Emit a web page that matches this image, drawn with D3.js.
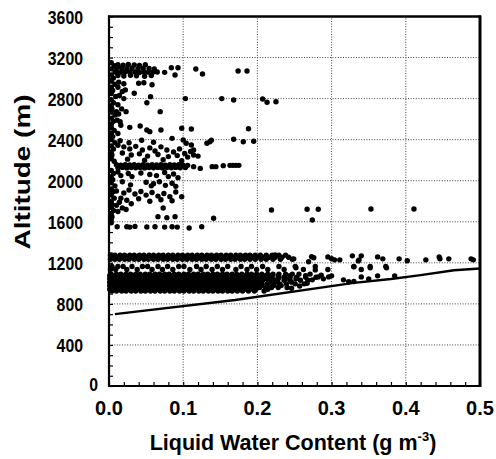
<!DOCTYPE html>
<html>
<head>
<meta charset="utf-8">
<script src="https://cdn.jsdelivr.net/npm/d3@7"></script>
<style>
  body { margin: 0; background: #fff; }
  svg { display: block; }
</style>
</head>
<body>
<svg id="chart" width="496" height="459"></svg>
<script>
// ---- axes ----
const xTicks = [0, 0.1, 0.2, 0.3, 0.4, 0.5];
const xTickLabels = ["0.0", "0.1", "0.2", "0.3", "0.4", "0.5"];
const yTicks = [0, 400, 800, 1200, 1600, 2000, 2400, 2800, 3200, 3600];
const yTickLabels = ["0", "400", "800", "1200", "1600", "2000", "2400", "2800", "3200", "3600"];
const xMinorStep = 0.02;   // g m-3
const yMinorStep = 100;    // m

// ---- cloud-base line (altitude vs LWC) ----
const baseLineLwc = [0.008, 0.17, 0.33, 0.38, 0.42, 0.465, 0.5];
const baseLineAlt = [700, 838, 1005, 1042, 1080, 1128, 1145];

// ---- lower cloud layer: dense rows (LWC values at one altitude) ----
const row1275 = [.002,.008,.015,.021,.028,.034,.041,.047,.054,.060,.067,.073,.080,.086,.093,.099,.106,.112,.119,.125,.132,.138,.145,.151,.158,.164,.171,.177,.184,.190,.197,.204,.212,.220,.229,.238];
const row1255 = [.005,.011,.018,.024,.031,.037,.044,.050,.057,.063,.070,.076,.083,.089,.096,.102,.109,.115,.122,.128,.135,.141,.148,.154,.161,.167,.174,.180,.187,.193,.200,.208,.216,.224,.233,.242];
const row1235 = [.002,.008,.014,.021,.027,.034,.040,.047,.053,.060,.066,.073,.079,.086,.092,.099,.105,.112,.118,.125,.131,.138,.144,.151,.157,.164,.170,.177,.183,.190,.197,.205,.212,.221,.231,.247];
const row1165 = [.004,.012,.019,.031,.045,.052,.066,.079,.094,.101,.118,.131,.146,.160,.178,.192,.207,.229,.251,.278,.330,.352,.373];
const row1135 = [.002,.009,.024,.038,.058,.072,.086,.109,.124,.139,.153,.171,.186,.199,.214,.236,.262,.295,.340];
const row1090 = [.003,.010,.016,.023,.029,.036,.042,.049,.055,.062,.068,.075,.081,.088,.094,.101,.107,.114,.120,.127,.133,.140,.146,.153,.159,.166,.172,.179,.186,.192,.199,.206,.214,.221,.229,.238,.247,.256,.271];
const row1075 = [.001,.007,.014,.020,.027,.033,.040,.046,.053,.059,.066,.072,.079,.085,.092,.098,.105,.111,.118,.124,.131,.137,.144,.150,.157,.163,.170,.176,.183,.189,.196,.203,.211,.219,.228,.244,.265];
const row1060 = [.003,.010,.016,.023,.029,.036,.042,.049,.055,.062,.068,.075,.081,.088,.094,.101,.107,.114,.120,.127,.133,.140,.146,.153,.159,.166,.172,.179,.185,.192,.198,.205,.213,.220,.229,.236,.244,.253,.265,.279];
const row1045 = [.001,.007,.013,.020,.026,.033,.039,.046,.052,.059,.065,.072,.078,.085,.091,.098,.104,.111,.117,.124,.130,.137,.143,.150,.156,.163,.169,.176,.182,.189,.196,.202,.210,.218,.228,.238,.252];
const row1030 = [.004,.010,.017,.023,.030,.036,.043,.049,.056,.062,.069,.075,.082,.088,.095,.101,.108,.114,.121,.127,.134,.140,.147,.153,.160,.166,.173,.179,.186,.193,.199,.207,.215,.224,.236,.244,.258,.268];
const row1012 = [.001,.007,.013,.020,.026,.033,.039,.046,.052,.059,.065,.072,.078,.085,.091,.098,.104,.111,.117,.124,.130,.137,.143,.150,.156,.163,.169,.176,.182,.189,.196,.204,.217,.227,.246];
const row995  = [.003,.010,.016,.023,.029,.036,.042,.049,.055,.062,.068,.075,.081,.088,.094,.101,.107,.114,.120,.127,.133,.140,.146,.153,.159,.166,.172,.179,.185,.192,.199,.206,.213,.221,.230,.239,.251,.263];
const row978  = [.001,.007,.014,.020,.027,.033,.040,.046,.053,.059,.066,.072,.079,.085,.092,.098,.105,.111,.118,.124,.131,.137,.144,.150,.157,.163,.170,.176,.183,.189,.197,.205,.213,.222,.232];
const row960  = [.004,.010,.017,.023,.030,.036,.043,.049,.056,.062,.069,.075,.082,.088,.095,.101,.108,.114,.121,.127,.134,.140,.147,.153,.160,.166,.173,.180,.187,.194,.203,.211,.219,.228,.240];
const row942  = [.001,.007,.013,.020,.026,.033,.039,.046,.052,.059,.065,.072,.078,.085,.091,.098,.104,.111,.117,.124,.130,.137,.143,.150,.156,.163,.169,.176,.183,.190,.198,.214];
const row925  = [.004,.010,.017,.023,.030,.036,.043,.049,.056,.062,.069,.075,.082,.088,.095,.101,.108,.114,.121,.127,.134,.140,.147,.153,.160,.166,.173,.180,.188,.196,.209];
const lowerRowAlts = [1275, 1255, 1235, 1165, 1135, 1090, 1075, 1060, 1045, 1030, 1012, 995, 978, 960, 942, 925];
const lowerRows = [row1275, row1255, row1235, row1165, row1135, row1090, row1075, row1060, row1045, row1030, row1012, row995, row978, row960, row942, row925];

// ---- lower cloud layer: scattered samples [LWC, altitude] ----
const lowerScatter = [
  [.249,1239],[.269,1210],[.276,1249],[.295,1258],[.300,1240],[.304,1229],[.311,1229],[.328,1268],
  [.337,1229],[.340,1268],[.362,1258],[.369,1239],[.391,1239],[.402,1220],[.427,1229],[.445,1258],
  [.446,1239],[.458,1239],[.488,1239],[.491,1229],[.224,1276],[.273,1260],[.336,1219],
  [.274,1034],[.282,1063],[.289,1044],[.296,1063],[.300,1073],[.278,1131],[.316,1034],[.323,1015],
  [.330,1018],[.340,1063],[.350,1044],[.362,1073],[.385,1073],[.246,952],[.252,1151],[.330,1161],
  [.352,1151],[.374,1151],[.257,975],[.286,1080],[.267,1000]
];

// ---- upper cloud layers [LWC, altitude] ----
const axisEdge = [
  [.003,3150],[.007,3120],[.003,3090],[.008,3060],[.003,3030],[.006,3000],[.003,2970],[.008,2940],
  [.003,2910],[.005,2880],[.003,2850],[.009,2820],[.003,2790],[.006,2760],[.003,2730],[.004,2700],
  [.003,2670],[.008,2640],[.003,2610],[.006,2580],[.003,2550],[.003,2520],[.007,2490],[.003,2460],
  [.005,2430],[.003,2400],[.008,2370],[.003,2340],[.006,2310],[.003,2280],[.004,2250],[.003,2220],
  [.007,2190],[.003,2100],[.006,2070],[.003,2040],[.005,2010],[.003,1980],[.008,1950],[.003,1920],
  [.005,1890],[.003,1860],[.007,1830],[.003,1800],[.004,1770],[.003,1740],[.006,1710],[.003,1680],
  [.004,1650],[.003,1620],[.003,1590]
];
const layer3000 = [
  [.012,3130],[.019,3125],[.026,3132],[.034,3128],[.041,3122],[.049,3130],
  [.010,3095],[.017,3098],[.024,3092],[.031,3096],[.039,3090],[.046,3097],[.054,3093],[.061,3090],
  [.010,3060],[.016,3058],[.022,3062],[.028,3057],[.035,3060],[.041,3055],[.047,3061],[.053,3058],[.059,3056],[.065,3060],
  [.012,3025],[.020,3020],[.029,3028],[.037,3022],[.048,3018],[.057,3025],
  [.075,3056],[.084,3101],[.093,3101],[.089,3030],[.117,3088],[.126,3040],[.174,3069],[.186,3069],
  [.013,2960],[.020,2945],[.040,2950],[.047,2955],[.058,2935],
  [.022,2885],[.034,2852],[.056,2819],[.051,2760],[.069,2673],[.010,2673],[.023,2673],
  [.012,2910],[.018,2870],[.014,2830],[.020,2800],[.012,2740],[.017,2700],[.013,2650],
  [.103,2800],[.152,2800],[.168,2786],[.207,2796],[.213,2764],[.225,2770]
];
const layer2500 = [
  [.015,2575],[.028,2520],[.042,2533],[.051,2494],[.055,2478],[.070,2494],[.098,2511],[.111,2504],
  [.188,2507],[.011,2590],[.016,2540],[.012,2460],
  [.085,2413],[.100,2397],[.111,2348],[.114,2299],[.136,2380],[.104,2365],[.132,2365],[.138,2395],
  [.168,2404],[.181,2380],[.195,2385],[.015,2390],[.027,2370],[.044,2395],[.060,2375],
  [.012,2345],[.020,2330],[.028,2310],[.036,2335],[.045,2300],[.055,2320],[.062,2290],[.070,2330],
  [.078,2300],[.087,2280],[.095,2310],[.102,2265],[.110,2285],[.018,2270],[.030,2250],[.041,2262],
  [.052,2240],[.066,2255],[.080,2235],[.092,2245],[.106,2230],[.025,2210],[.048,2200],[.073,2205],
  [.098,2195],[.120,2240],[.114,2251]
];
const band2150 = [
  [.010,2155],[.016,2152],[.022,2156],[.028,2153],[.034,2157],[.040,2152],[.046,2155],[.052,2151],
  [.058,2156],[.064,2153],[.070,2155],[.076,2152],[.082,2156],[.088,2153],[.094,2155],[.100,2152],[.106,2150],
  [.012,2127],[.018,2130],[.024,2125],[.030,2129],[.036,2126],[.042,2130],[.048,2125],[.054,2128],
  [.060,2126],[.066,2130],[.072,2125],[.078,2128],[.084,2126],[.090,2130],[.096,2127],[.103,2128],
  [.114,2137],[.123,2120],[.139,2137],[.144,2137],[.154,2147],[.163,2150],[.167,2150],[.171,2150],[.175,2150]
];
const layer1800 = [
  [.012,2085],[.016,2050],[.026,2070],[.031,2040],[.043,2075],[.055,2060],[.064,2050],[.075,2080],
  [.080,2040],[.087,2065],[.093,2030],[.018,1990],[.029,1960],[.050,1985],[.057,1950],[.060,1970],
  [.068,1990],[.076,1955],[.085,1975],[.090,1945],
  [.010,1900],[.020,1880],[.027,1910],[.035,1870],[.043,1895],[.050,1860],[.058,1885],[.066,1850],
  [.074,1875],[.082,1845],[.090,1890],[.098,1844],[.016,1830],[.024,1810],[.040,1825],[.055,1800],
  [.070,1815],[.085,1805],[.014,1790],[.030,1775],
  [.010,1760],[.018,1735],[.012,1700],[.023,1720],[.073,1734],[.066,1650],[.078,1640],[.089,1650],
  [.141,1634],
  [.011,1552],[.024,1552],[.028,1548],[.035,1555],[.051,1550],[.062,1552],[.075,1548],[.085,1552],
  [.092,1548],[.108,1540],[.125,1552],
  [.219,1715],[.267,1722],[.282,1722],[.274,1617],[.353,1725],[.411,1725]
];

// ---- drawing ----
const svg = d3.select("#chart");
const x = d3.scaleLinear().domain([0, 0.5]).range([109, 480]);
const y = d3.scaleLinear().domain([0, 3600]).range([386, 16.5]);
const [x0, x1] = x.range();
const [y0, y1] = y.range();
const fontFamily = "'Liberation Sans', Arial, Helvetica, sans-serif";

// dotted grid
const grid = svg.append("g").attr("stroke", "#444").attr("stroke-width", 1)
  .attr("stroke-dasharray", "1,1.6").attr("fill", "none");
xTicks.filter(v => v > 0 && v < 0.5).forEach(v => {
  grid.append("line").attr("x1", x(v)).attr("x2", x(v)).attr("y1", y0).attr("y2", y1);
});
yTicks.filter(v => v > 0 && v < 3600).forEach(v => {
  grid.append("line").attr("x1", x0).attr("x2", x1).attr("y1", y(v)).attr("y2", y(v));
});

// inward minor ticks via d3 axes
const xMinor = d3.range(0, 0.5 + 1e-9, xMinorStep);
const yMinor = d3.range(0, 3600 + 1e-9, yMinorStep);
const bottomAxis = svg.append("g").attr("transform", `translate(0,${y0})`)
  .call(d3.axisBottom(x).tickValues(xMinor).tickSize(-4).tickFormat(""));
const leftAxis = svg.append("g").attr("transform", `translate(${x0},0)`)
  .call(d3.axisLeft(y).tickValues(yMinor).tickSize(-4).tickFormat(""));
[bottomAxis, leftAxis].forEach(g => {
  g.select(".domain").remove();
  g.selectAll(".tick line").attr("stroke", "#000").attr("stroke-width", 1.2);
});

// data points
const dots = svg.append("g").attr("fill", "#000");
const allPoints = [];
lowerRows.forEach((row, i) => row.forEach(v => allPoints.push([v, lowerRowAlts[i]])));
[lowerScatter, axisEdge, layer3000, layer2500, band2150, layer1800].forEach(a => a.forEach(p => allPoints.push(p)));
dots.selectAll("circle").data(allPoints).join("circle")
  .attr("cx", d => x(d[0])).attr("cy", d => y(d[1])).attr("r", 2.7);

// cloud-base line
const line = d3.line().x(d => x(d[0])).y(d => y(d[1]));
svg.append("path")
  .datum(baseLineLwc.map((v, i) => [v, baseLineAlt[i]]))
  .attr("d", line).attr("fill", "none").attr("stroke", "#000").attr("stroke-width", 2.4);

// frame
const frame = svg.append("g").attr("stroke", "#000").attr("fill", "none");
frame.append("line").attr("x1", x0).attr("x2", x0).attr("y1", y0 + 1).attr("y2", y1 - 1).attr("stroke-width", 2.2);
frame.append("line").attr("x1", x0 - 1).attr("x2", x1 + 1).attr("y1", y0).attr("y2", y0).attr("stroke-width", 2.2);
frame.append("line").attr("x1", x0 - 1).attr("x2", x1 + 1).attr("y1", y1).attr("y2", y1).attr("stroke-width", 2.6);
frame.append("line").attr("x1", x1).attr("x2", x1).attr("y1", y0 + 1).attr("y2", y1 - 1).attr("stroke-width", 3);

// tick labels
const labels = svg.append("g").attr("font-family", fontFamily).attr("font-weight", "bold").attr("fill", "#000");
yTicks.forEach((v, i) => {
  const isZero = v === 0;
  const txt = yTickLabels[i];
  labels.append("text")
    .attr("x", isZero ? 98 : 83)
    .attr("y", y(v) + (isZero ? 5 : 7))
    .attr("text-anchor", "end")
    .attr("font-size", 19)
    .attr("textLength", txt.length * 8.8)
    .attr("lengthAdjust", "spacingAndGlyphs")
    .text(txt);
});
xTicks.forEach((v, i) => {
  labels.append("text")
    .attr("x", x(v))
    .attr("y", 415)
    .attr("text-anchor", "middle")
    .attr("font-size", 20)
    .text(xTickLabels[i]);
});

// axis titles
const xTitle = svg.append("text")
  .attr("x", 293).attr("y", 450)
  .attr("text-anchor", "middle")
  .attr("font-family", fontFamily).attr("font-weight", "bold").attr("font-size", 21.5);
xTitle.append("tspan").text("Liquid Water Content (g m");
xTitle.append("tspan").attr("font-size", 13).attr("dy", -9).text("-3");
xTitle.append("tspan").attr("dy", 9).text(")");

svg.append("text")
  .attr("transform", "translate(30,172) rotate(-90)")
  .attr("text-anchor", "middle")
  .attr("font-family", fontFamily).attr("font-weight", "bold").attr("font-size", 22)
  .attr("textLength", 155)
  .attr("lengthAdjust", "spacingAndGlyphs")
  .text("Altitude (m)");
</script>
</body>
</html>
